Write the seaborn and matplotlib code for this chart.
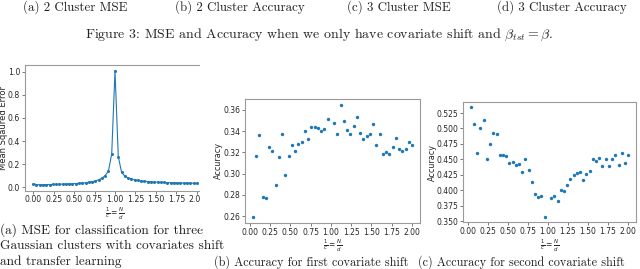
import numpy as np
import pandas as pd
import seaborn as sns
import matplotlib.pyplot as plt
from matplotlib.patches import Rectangle

# x grid (1/c = N/d)
x_mse = np.round(np.arange(0.0, 2.001, 0.04), 2)
x_acc = np.round(np.arange(0.04, 2.001, 0.04), 2)

mse = [0.030, 0.022, 0.020, 0.021, 0.022, 0.022, 0.023, 0.024, 0.025, 0.026,
       0.027, 0.028, 0.029, 0.031, 0.033, 0.035, 0.038, 0.042, 0.047, 0.054,
       0.063, 0.078, 0.100, 0.140, 0.290, 1.010,
       0.265, 0.130, 0.095, 0.080, 0.070, 0.063, 0.058, 0.054, 0.051, 0.048,
       0.046, 0.044, 0.043, 0.041, 0.040, 0.039, 0.038, 0.037, 0.037, 0.036,
       0.035, 0.035, 0.034, 0.034, 0.033]

# accuracy, first covariate shift (no value at 1.00)
acc_first = [0.259, 0.317, 0.336, 0.278, 0.277, 0.325, 0.321, 0.289, 0.316, 0.337,
             0.299, 0.317, 0.327, 0.321, 0.328, 0.330, 0.340, 0.333, 0.344, 0.344,
             0.343, 0.340, 0.342, 0.351, np.nan,
             0.348, 0.337, 0.365, 0.350, 0.341, 0.337, 0.345, 0.353, 0.338, 0.333,
             0.335, 0.337, 0.347, 0.327, 0.337, 0.318, 0.320, 0.318, 0.325, 0.334,
             0.323, 0.321, 0.323, 0.330, 0.327]

# accuracy, second covariate shift
acc_second = [0.534, 0.508, 0.460, 0.500, 0.514, 0.450, 0.475, 0.492, 0.491, 0.457,
              0.457, 0.456, 0.444, 0.446, 0.441, 0.443, 0.429, 0.450, 0.433, 0.413,
              0.394, 0.389, 0.391, 0.357, np.nan,
              0.387, 0.391, 0.383, 0.400, 0.398, 0.409, 0.418, 0.425, 0.428, 0.430,
              0.416, 0.427, 0.431, 0.450, 0.448, 0.452, 0.439, 0.451, 0.439, 0.451,
              0.457, 0.441, 0.460, 0.444, 0.457]

top_caps = ["(a) 2 Cluster MSE", "(b) 2 Cluster Accuracy",
            "(c) 3 Cluster MSE", "(d) 3 Cluster Accuracy"]
fig_cap = r"Figure 3: MSE and Accuracy when we only have covariate shift and $\beta_{tst} = \beta$."
cap_a = ["(a) MSE for classification for three",
         "Gaussian clusters with covariates shift",
         "and transfer learning"]
cap_b = "(b) Accuracy for first covariate shift"
cap_c = "(c) Accuracy for second covariate shift"
xlab = r"$\frac{1}{c} = \frac{N}{d}$"
xtl = ["0.00", "0.25", "0.50", "0.75", "1.00", "1.25", "1.50", "1.75", "2.00"]

sns.set_style("white")
blue = "#1f77b4"
W, H = 640, 269

fig = plt.figure(figsize=(6.4, 2.69), dpi=100)


def box(l, t, r, b):
    return [l / W, 1 - b / H, (r - l) / W, (b - t) / H]


ax_a = fig.add_axes(box(25, 65, 205, 190.5))
ax_b = fig.add_axes(box(245, 99, 420, 222.7))
ax_c = fig.add_axes(box(463, 102, 636, 222.3))

df_a = pd.DataFrame({"x": x_mse, "mse": mse})
sns.lineplot(data=df_a, x="x", y="mse", ax=ax_a, color=blue, linewidth=0.8,
             marker="o", markersize=2.2, markeredgewidth=0)
ax_a.set_xlim(-0.1, 2.1)
ax_a.set_ylabel("Mean Sqaured Error", fontsize=6.0)
ax_a.yaxis.set_label_coords((8.0 - 25) / 180, 0.5)

df_b = pd.DataFrame({"x": x_acc, "acc": acc_first})
sns.scatterplot(data=df_b, x="x", y="acc", ax=ax_b, color=blue, s=6, linewidth=0)
ax_b.set_ylabel("Accuracy", fontsize=5.8)
ax_b.yaxis.set_label_coords((222.5 - 245) / 175, 0.5)

df_c = pd.DataFrame({"x": x_acc, "acc": acc_second})
sns.scatterplot(data=df_c, x="x", y="acc", ax=ax_c, color=blue, s=6, linewidth=0)
ax_c.set_ylabel("Accuracy", fontsize=5.8)
ax_c.yaxis.set_label_coords((437 - 463) / 173, 0.5)
ax_c.set_yticks([0.350, 0.375, 0.400, 0.425, 0.450, 0.475, 0.500, 0.525])
ax_c.set_yticklabels(["0.350", "0.375", "0.400", "0.425", "0.450", "0.475", "0.500", "0.525"])

for ax, fs in ((ax_a, 5.6), (ax_b, 5.5), (ax_c, 5.5)):
    ax.set_xticks([0, 0.25, 0.5, 0.75, 1.0, 1.25, 1.5, 1.75, 2.0])
    ax.set_xticklabels(xtl)
    ax.set_xlabel(xlab, fontsize=5.5, labelpad=1)
    ax.tick_params(labelsize=fs, length=2, width=0.5, pad=1.5, left=True, bottom=True,
                   color="#444444")
    for s in ax.spines.values():
        s.set_color("#9a9a9a")
        s.set_linewidth(0.8)

# panel (a) is cut off at the right in the source
fig.patches.append(Rectangle((200 / W, 0.15), 10 / W, 0.7, transform=fig.transFigure,
                             facecolor="white", edgecolor="none", zorder=10))

serif = dict(family="cmr10", color="#222222")
for txt, xp in zip(top_caps, [22.7, 175, 347, 497]):
    fig.text(xp / W, 1 - 6.7 / H, txt, va="center", ha="left", fontsize=9.3, **serif)
fig.text(319.5 / W, 1 - 35 / H, fig_cap, va="center", ha="center", fontsize=10,
         math_fontfamily="cm", **serif)
for txt, yp in zip(cap_a, [230, 246, 262]):
    fig.text(0, 1 - yp / H, txt, va="center", ha="left", fontsize=9.6, **serif)
fig.text(214 / W, 1 - 262 / H, cap_b, va="center", ha="left", fontsize=8.8, **serif)
fig.text(418 / W, 1 - 262 / H, cap_c, va="center", ha="left", fontsize=8.8, **serif)

fig.savefig("out.png", dpi=100)
